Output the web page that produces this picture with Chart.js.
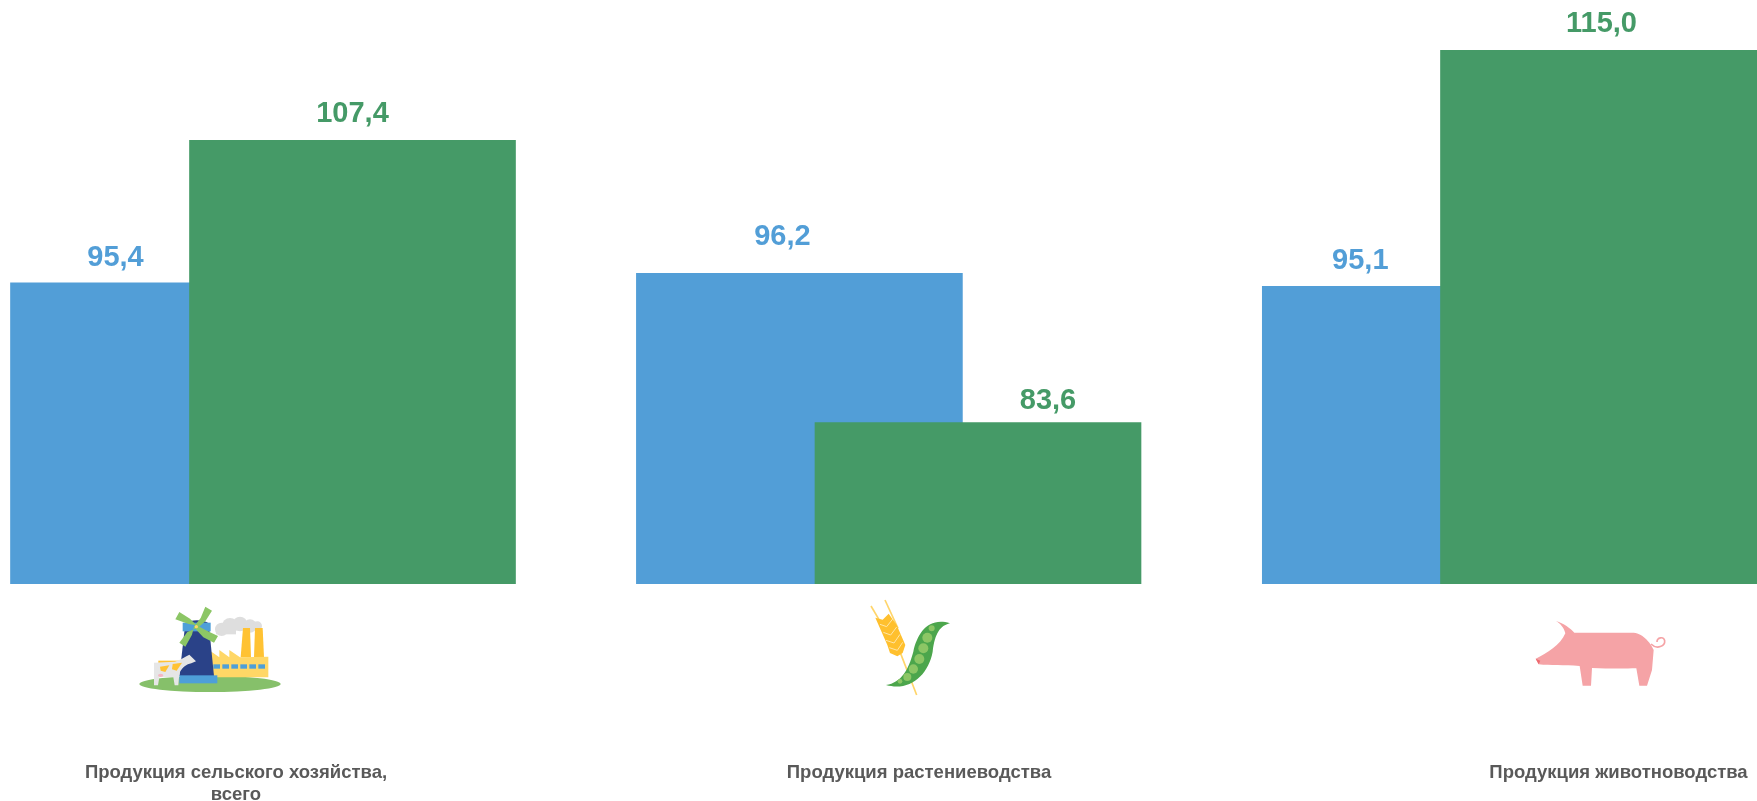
<!DOCTYPE html>
<html lang="ru">
<head>
<meta charset="utf-8">
<title>Продукция сельского хозяйства</title>
<script src="https://cdn.jsdelivr.net/npm/chart.js@4"></script>
<style>
html,body{margin:0;padding:0;background:#fff;overflow:hidden}
#wrap{position:relative;width:1757px;height:801px}
canvas{display:block}
svg{position:absolute;overflow:visible;filter:blur(.45px)}
</style>
</head>
<body>
<div id="wrap">
<canvas id="c" width="1757" height="801"></canvas>

<svg style="left:130px;top:600px" width="160" height="100" viewBox="0 0 480 300" aria-hidden="true">
  <ellipse cx="240" cy="252" rx="212" ry="24" fill="#86C06A"/>
  <g fill="#DEDEDE"><circle cx="275" cy="88" r="20"/><circle cx="300" cy="78" r="24"/><circle cx="330" cy="72" r="22"/><circle cx="360" cy="78" r="20"/><circle cx="382" cy="78" r="14"/><rect x="258" y="85" width="60" height="18"/></g>
  <polygon fill="#FFC233" points="332,172 339,84 360,84 363,172"/>
  <polygon fill="#FFC233" points="372,172 375,84 398,84 402,172"/>
  <polygon fill="#FFD766" points="240,152 268,172 268,150 298,172 298,150 330,172 415,170 415,232 240,232"/>
  <g fill="#4E9FD8"><rect x="250" y="193" width="20" height="13"/><rect x="277" y="193" width="20" height="13"/><rect x="304" y="193" width="20" height="13"/><rect x="331" y="193" width="20" height="13"/><rect x="358" y="193" width="20" height="13"/><rect x="385" y="193" width="20" height="13"/></g>
  <path fill="#2A4288" d="M166,70 C180,58 222,58 236,70 L252,228 L148,228 Z"/>
  <rect x="148" y="226" width="114" height="24" fill="#4E9FD8"/>
  <rect x="158" y="68" width="84" height="26" fill="#4E9FD8"/>
  <g fill="#8CC665">
    <polygon points="199,76 176,72 136,58 148,36 180,56 204,80"/>
    <polygon points="195,76 212,54 226,20 246,32 226,64 203,84"/>
    <polygon points="193,76 186,104 166,140 148,128 172,96 202,84"/>
    <polygon points="198,74 226,90 264,108 252,128 220,112 194,84"/>
  </g>
  <circle cx="199" cy="80" r="5" fill="#FFD766"/>
  <rect x="85" y="182" width="70" height="20" fill="#FFC233"/>
  <path fill="#E6E6E6" d="M72,188 L135,185 C150,180 165,170 178,164 L198,184 L184,190 C170,192 156,204 150,216 L147,232 L145,256 L134,256 L130,232 L88,232 L84,256 L72,256 Z"/>
  <g fill="#FFC233"><polygon points="90,200 118,196 106,216 92,212"/><polygon points="128,192 156,188 140,212 126,208"/></g>
  <ellipse cx="92" cy="226" rx="8" ry="5" fill="#F4B6C2"/>
</svg>

<svg style="left:860px;top:595px" width="110" height="110" viewBox="0 0 330 330" aria-hidden="true">
  <g stroke="#FFD56A" stroke-width="5" fill="none"><path d="M33,33 L62,82"/><path d="M75,15 L114,100"/><path d="M122,176 L170,300"/></g>
  <path fill="#FFC02E" d="M46,68 L68,74 L86,56 L110,90 L136,150 L128,174 L112,184 L90,174 L82,150 Z"/>
  <g stroke="#FFE6A6" stroke-width="3" fill="none"><path d="M60,88 L80,95 L98,72"/><path d="M70,112 L92,120 L110,96"/><path d="M78,136 L102,144 L120,118"/><path d="M88,158 L112,166 L128,142"/></g>
  <path fill="#4CA64C" d="M78,270 C125,262 145,225 160,170 C172,115 205,65 270,85 C240,92 225,115 218,170 C205,240 150,290 78,270 Z"/>
  <g fill="#8CC665"><circle cx="120" cy="259" r="7"/><circle cx="142" cy="246" r="12"/><circle cx="160" cy="222" r="14"/><circle cx="178" cy="192" r="15"/><circle cx="190" cy="160" r="15"/><circle cx="202" cy="128" r="15"/><circle cx="215" cy="100" r="9"/></g>
</svg>

<svg style="left:1457px;top:570px" width="300" height="231" viewBox="0 0 900 693" aria-hidden="true">
  <path fill="#F5A3A6" d="M236,266 C270,250 310,225 325,190 C322,175 310,160 297,153 C320,160 340,175 352,188 L530,188 C560,190 585,225 590,240 L585,300 L570,347 L547,347 L538,295 C500,296 450,296 405,294 L402,347 L377,347 L368,288 C320,285 280,287 245,283 Z"/>
  <path fill="none" stroke="#F5A3A6" stroke-width="5" d="M582,222 C600,240 625,228 623,212 C620,198 600,202 600,216"/>
  <path fill="#EE6A70" d="M236,266 L250,272 L245,283 Z"/>
</svg>
</div>

<script>
const categories = [
  ["Продукция сельского хозяйства,", "всего"],
  ["Продукция растениеводства"],
  ["Продукция животноводства"]
];
const seriesBlue = [95.4, 96.2, 95.1];
const seriesGreen = [107.4, 83.6, 115.0];
const labelsBlue = ["95,4", "96,2", "95,1"];
const labelsGreen = ["107,4", "83,6", "115,0"];

const BLUE = "#529ED7", GREEN = "#459A67";
const W = 1757, AXIS_H = 217;
/* presentation: hand-placed offsets of the value labels from bar centre / bar top, and category label centres */
const labelDxBlue = [-58, -17, -65];
const labelGapBlue = [17, 28, 17];
const labelDxGreen = [0, 70, -2];
const labelGapGreen = [18, 14, 18];
const categoryCentres = [236, 919, 1618.5];

const points = vals => vals.map((y, x) => ({x, y}));

const valueLabels = {
  id: "valueLabels",
  afterDatasetsDraw(chart) {
    const ctx = chart.ctx;
    const sets = [[labelsBlue, labelDxBlue, labelGapBlue], [labelsGreen, labelDxGreen, labelGapGreen]];
    sets.forEach(([txt, dx, gap], d) => {
      const meta = chart.getDatasetMeta(d);
      ctx.save();
      ctx.font = 'bold 29px "Liberation Sans", Arial, sans-serif';
      ctx.textAlign = "center";
      ctx.textBaseline = "alphabetic";
      ctx.fillStyle = d === 0 ? BLUE : GREEN;
      meta.data.forEach((bar, i) => ctx.fillText(txt[i], bar.x + dx[i], bar.y - gap[i]));
      ctx.restore();
    });
  }
};

new Chart(document.getElementById("c"), {
  type: "bar",
  data: {
    datasets: [
      {label: "blue", data: points(seriesBlue), backgroundColor: BLUE, xAxisID: "xBlue", order: 2, grouped: false, barThickness: 326, borderWidth: 0},
      {label: "green", data: points(seriesGreen), backgroundColor: GREEN, xAxisID: "xGreen", order: 1, grouped: false, barThickness: 326, borderWidth: 0}
    ]
  },
  plugins: [valueLabels],
  options: {
    responsive: false,
    animation: false,
    layout: {padding: 0},
    plugins: {legend: {display: false}, tooltip: {enabled: false}, title: {display: false}},
    scales: {
      y: {display: false, min: 70, max: 119.24},
      xBlue: {type: "linear", display: false, offset: false, min: -173.5 / 625.9, max: (W - 173.5) / 625.9},
      xGreen: {type: "linear", display: false, offset: false, min: -352.5 / 625.5, max: (W - 352.5) / 625.5},
      xLabels: {
        type: "linear", position: "bottom", offset: false, min: 0, max: W,
        grid: {display: false, drawTicks: false},
        border: {display: false},
        afterBuildTicks(s) { s.ticks = categoryCentres.map(value => ({value})); },
        afterFit(s) { s.height = AXIS_H; s.paddingLeft = 0; s.paddingRight = 0; },
        ticks: {
          autoSkip: false, maxRotation: 0, minRotation: 0, padding: 178, color: "#595959",
          font: {family: '"Liberation Sans", Arial, sans-serif', size: 18.5, weight: "bold", lineHeight: 1.2},
          callback: (v, i) => categories[i]
        }
      }
    }
  }
});
</script>
</body>
</html>
